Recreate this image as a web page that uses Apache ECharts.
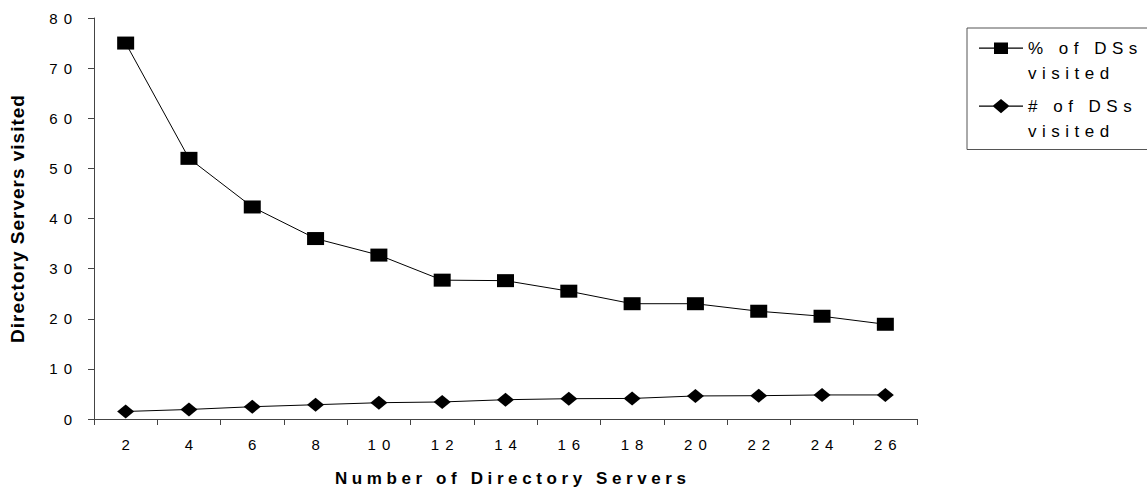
<!DOCTYPE html>
<html>
<head>
<meta charset="utf-8">
<script src="https://cdn.jsdelivr.net/npm/echarts@6/dist/echarts.min.js"></script>
<style>
html,body{margin:0;padding:0;background:#fff;}
#c{width:1147px;height:494px;}
</style>
</head>
<body>
<div id="c"></div>
<script>
var categories = ['2','4','6','8','10','12','14','16','18','20','22','24','26'];
var pctVisited = [75, 52, 42.3, 36, 32.7, 27.7, 27.6, 25.5, 23, 23, 21.5, 20.5, 18.9];
var numVisited = [1.5, 1.9, 2.45, 2.85, 3.25, 3.4, 3.85, 4.05, 4.1, 4.6, 4.65, 4.8, 4.8];
var seriesNames = ['% of DSs\nvisited', '# of DSs\nvisited'];
var xTitle = 'Number of Directory Servers';
var yTitle = 'Directory Servers visited';
var yTicks = { min: 0, max: 80, interval: 10 };

var font = '"Liberation Sans", Arial, sans-serif';
var TICK_SP = 6, XT_SP = 4.6, YT_SP = 1, LEG_SP = 5.5;

// legend icons: a line with the marker on the first text line (box 44 x 50)
var EXTENT = 'M0 0L0.01 0L0.01 0.01Z M44 50L43.99 50L43.99 49.99Z ';
var LINE = 'M0 12L44 12L44 13.2L0 13.2Z ';
var iconSquare = 'path://' + EXTENT + LINE + 'M15 7L29 7L29 18.5L15 18.5Z';
var iconDiamond = 'path://' + EXTENT + LINE + 'M22 5.5L30.5 12.6L22 19.7L13.5 12.6Z';

var chart = echarts.init(document.getElementById('c'), null, { renderer: 'svg' });
chart.setOption({
  animation: false,
  backgroundColor: '#fff',
  grid: { left: 94, right: 230, top: 18, bottom: 75 },
  xAxis: {
    type: 'category',
    data: categories,
    boundaryGap: true,
    name: xTitle,
    nameLocation: 'middle',
    nameGap: 51,
    nameTextStyle: { fontFamily: font, fontSize: 17, fontWeight: 'bold', color: '#000', padding: [0, 0, 0, XT_SP + 10] },
    axisLine: { lineStyle: { color: '#444', width: 1 } },
    axisTick: { show: true, length: 6, lineStyle: { color: '#444' } },
    axisLabel: { fontFamily: font, fontSize: 15, color: '#000', margin: 18, padding: [0, 0, 0, TICK_SP] }
  },
  yAxis: {
    type: 'value',
    min: yTicks.min, max: yTicks.max, interval: yTicks.interval,
    name: yTitle,
    nameLocation: 'middle',
    nameGap: 67,
    nameTextStyle: { fontFamily: font, fontSize: 19, fontWeight: 'bold', color: '#000' },
    axisLine: { show: true, lineStyle: { color: '#444', width: 1 } },
    axisTick: { show: true, length: 6, lineStyle: { color: '#444' } },
    axisLabel: { fontFamily: font, fontSize: 15, color: '#000', margin: 16 },
    splitLine: { show: false }
  },
  legend: {
    orient: 'vertical',
    left: 967,
    top: 28,
    padding: [7.5, 80, 6, 12],
    itemGap: 8,
    itemWidth: 44,
    itemHeight: 50,
    symbolKeepAspect: false,
    borderColor: '#555',
    borderWidth: 1,
    itemStyle: { borderWidth: 0 },
    textStyle: { fontFamily: font, fontSize: 17, color: '#000', lineHeight: 25 },
    data: [
      { name: seriesNames[0], icon: iconSquare },
      { name: seriesNames[1], icon: iconDiamond }
    ]
  },
  series: [
    {
      name: seriesNames[0],
      type: 'line',
      data: pctVisited,
      symbol: 'rect',
      symbolSize: [17, 13],
      itemStyle: { color: '#000' },
      lineStyle: { color: '#000', width: 1 }
    },
    {
      name: seriesNames[1],
      type: 'line',
      data: numVisited,
      symbol: 'diamond',
      symbolSize: [17, 14],
      itemStyle: { color: '#000' },
      lineStyle: { color: '#000', width: 1 }
    }
  ]
});

function applySpacing() {
  var legendLines = {};
  seriesNames.forEach(function (n) { n.split('\n').forEach(function (l) { legendLines[l] = true; }); });
  var texts = document.querySelectorAll('#c text');
  texts.forEach(function (t) {
    var s = t.textContent;
    var sp;
    if (s === yTitle) sp = YT_SP;
    else if (s === xTitle) sp = XT_SP;
    else if (legendLines[s]) sp = LEG_SP;
    else sp = TICK_SP;
    t.style.letterSpacing = sp + 'px';
  });
}
applySpacing();
chart.on('finished', applySpacing);
</script>
</body>
</html>
